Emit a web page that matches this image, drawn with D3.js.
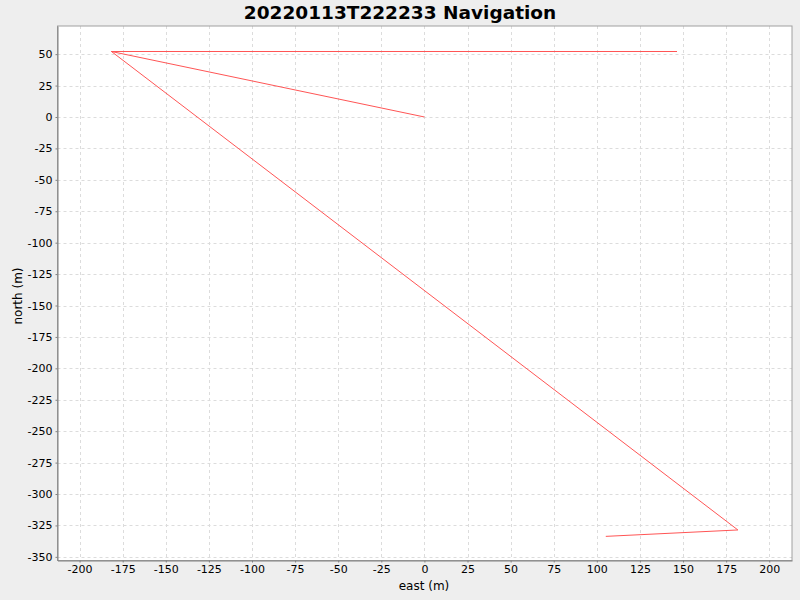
<!DOCTYPE html>
<html><head><meta charset="utf-8">
<script src="https://cdn.jsdelivr.net/npm/d3@7"></script>
<style>body{margin:0;background:#eeeeee;}svg{display:block;font-family:"DejaVu Sans",sans-serif;}</style>
</head><body>
<svg id="c" width="800" height="600"></svg>
<script>
const title = "20220113T222233 Navigation";
const eastValues = [0, -181.5, 146.5, -181.5, 181.8, 105.2];
const northValues = [0, 52.1, 52.1, 52.1, -328.6, -333.7];
const xTicks = d3.range(-200, 201, 25);
const yTicks = d3.range(-350, 51, 25);
const xLabel = "east (m)";
const yLabel = "north (m)";

const svg = d3.select("#c");
const L = 57.5, R = 792, T = 26, B = 560.5;
svg.append("rect").attr("width",800).attr("height",600).attr("fill","#eeeeee");
const x = d3.scaleLinear().domain([-212.8, 213.2]).range([L, R]);
const y = d3.scaleLinear().domain([-352.9, 72.4]).range([B, T]);

svg.append("rect").attr("x",L).attr("y",T).attr("width",R-L).attr("height",B-T).attr("fill","#ffffff");

const g = svg.append("g");
g.selectAll(".vx").data(xTicks).enter().append("line")
  .attr("x1",d=>Math.round(x(d))+0.5).attr("x2",d=>Math.round(x(d))+0.5)
  .attr("y1",T).attr("y2",B).attr("stroke","#dcdcdc").attr("stroke-dasharray","3,3");
g.selectAll(".hy").data(yTicks).enter().append("line")
  .attr("y1",d=>Math.round(y(d))+0.5).attr("y2",d=>Math.round(y(d))+0.5)
  .attr("x1",L).attr("x2",R).attr("stroke","#dcdcdc").attr("stroke-dasharray","3,3");

const pts = eastValues.map((e,i)=>[e, northValues[i]]);
svg.append("path").datum(pts)
  .attr("d", d3.line().x(d=>x(d[0])).y(d=>y(d[1])))
  .attr("fill","none").attr("stroke","#ff5555").attr("stroke-width",1);

// plot border
svg.append("rect").attr("x",L).attr("y",T).attr("width",R-L).attr("height",B-T)
  .attr("fill","none").attr("stroke","#a0a0a0").attr("stroke-width",1);

const fmt = d => String(d);
const xAxis = svg.append("g").attr("transform",`translate(0,${B})`)
  .call(d3.axisBottom(x).tickValues(xTicks).tickFormat(fmt).tickSize(2).tickPadding(3).tickSizeOuter(0));
const yAxis = svg.append("g").attr("transform",`translate(${L},0)`)
  .call(d3.axisLeft(y).tickValues(yTicks).tickFormat(fmt).tickSize(2).tickPadding(3).tickSizeOuter(0));
[xAxis, yAxis].forEach(a=>{
  a.select(".domain").attr("stroke","#808080");
  a.selectAll(".tick line").attr("stroke","#808080");
  a.selectAll("text").attr("font-size","11px").attr("fill","#000").attr("font-family","'DejaVu Sans',sans-serif");
});

svg.append("text").attr("x",400).attr("y",19).attr("text-anchor","middle")
  .attr("font-size","18.5px").attr("font-weight","bold").text(title);
svg.append("text").attr("x",424).attr("y",590).attr("text-anchor","middle")
  .attr("font-size","12px").text(xLabel);
svg.append("text").attr("transform","translate(22,296) rotate(-90)").attr("text-anchor","middle")
  .attr("font-size","12px").text(yLabel);
</script>
</body></html>
